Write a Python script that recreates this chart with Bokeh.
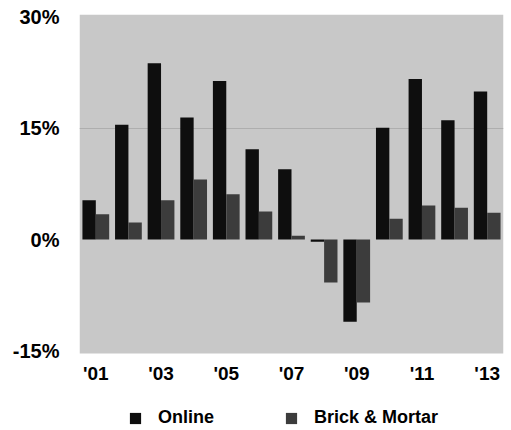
from bokeh.plotting import figure
from bokeh.models import ColumnDataSource, FixedTicker, Legend, LegendItem, BoxAnnotation
from bokeh.core.properties import value
from bokeh.transform import dodge
from bokeh.embed import file_html
from bokeh.resources import INLINE

years = [2001, 2002, 2003, 2004, 2005, 2006, 2007, 2008, 2009, 2010, 2011, 2012, 2013]
online = [5.3, 15.5, 23.8, 16.5, 21.4, 12.2, 9.5, -0.3, -11.1, 15.1, 21.7, 16.1, 20.0]
brick = [3.4, 2.3, 5.3, 8.1, 6.1, 3.8, 0.5, -5.8, -8.5, 2.8, 4.6, 4.3, 3.6]
x_ticks = [2001, 2003, 2005, 2007, 2009, 2011, 2013]
x_tick_labels = ["'01", "'03", "'05", "'07", "'09", "'11", "'13"]
y_ticks = [-15, 0, 15, 30]
y_tick_labels = ["-15%", "0%", "15%", "30%"]
series_names = ["Online", "Brick & Mortar"]
y_min, y_max = -15.4, 30.4

FONT = "Liberation Sans, Arial, sans-serif"

src = ColumnDataSource(dict(year=years, online=online, brick=brick))
lab_src = ColumnDataSource(dict(x=x_ticks, y=[y_min] * len(x_ticks), text=x_tick_labels))

# frame extends below the plotting area to host tick labels and legend
px_per_unit = 339 / (y_max - y_min)
y_start = y_max - 416 / px_per_unit

p = figure(width=508, height=430, output_backend="svg", toolbar_location=None,
           x_range=(2000.5, 2013.5), y_range=(y_start, y_max),
           min_border_left=79, min_border_right=5, min_border_top=14, min_border_bottom=0)
p.background_fill_color = "white"
p.border_fill_color = "white"
p.outline_line_color = None

bg = BoxAnnotation(bottom=y_min, top=y_max, fill_color="#c8c8c8", fill_alpha=1,
                   line_color=None, level="image")
p.add_layout(bg)

r1 = p.vbar(x=dodge("year", -0.205, range=p.x_range), top="online", bottom=0, width=0.41,
            source=src, fill_color="#0e0e0e", line_color=None)
r2 = p.vbar(x=dodge("year", 0.205, range=p.x_range), top="brick", bottom=0, width=0.41,
            source=src, fill_color="#3c3c3c", line_color=None)

p.text(x="x", y="y", text="text", source=lab_src, y_offset=20,
       text_align="center", text_baseline="middle", text_font=value(FONT),
       text_font_style="bold", text_font_size="19px", text_color="black")

p.xgrid.visible = False
p.ygrid.ticker = FixedTicker(ticks=[15])
p.ygrid.grid_line_color = "#aeaeae"
p.xaxis.visible = False

p.yaxis.ticker = FixedTicker(ticks=y_ticks)
p.yaxis.major_label_overrides = {t: l for t, l in zip(y_ticks, y_tick_labels)}
p.yaxis.axis_line_color = None
p.yaxis.major_tick_line_color = None
p.yaxis.minor_tick_line_color = None
p.yaxis.major_label_text_font = FONT
p.yaxis.major_label_text_font_style = "bold"
p.yaxis.major_label_text_color = "black"
p.yaxis.major_label_text_font_size = "20px"
p.yaxis.major_label_standoff = 14

legend = Legend(items=[LegendItem(label=series_names[0], renderers=[r1]),
                       LegendItem(label=series_names[1], renderers=[r2])],
                orientation="horizontal", location=(49, 2),
                glyph_width=14, glyph_height=14, label_standoff=16, spacing=70,
                padding=0, margin=0, border_line_color=None, background_fill_alpha=0,
                label_text_font=FONT, label_text_font_style="bold",
                label_text_font_size="18px", label_text_color="black")
p.add_layout(legend, "center")

open("out.html", "w").write(file_html(p, INLINE))
